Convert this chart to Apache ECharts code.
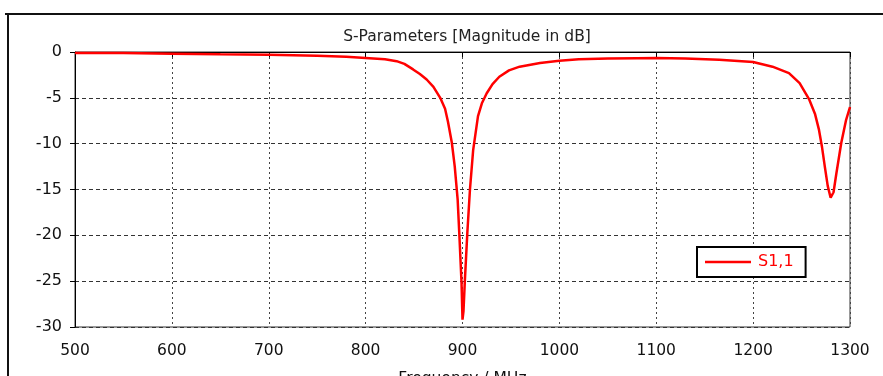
<!DOCTYPE html>
<html>
<head>
<meta charset="utf-8">
<script src="https://cdn.jsdelivr.net/npm/echarts@6/dist/echarts.min.js"></script>
<style>
  html, body { margin: 0; padding: 0; background: #fff; }
  #chart { width: 883px; height: 376px; }
</style>
</head>
<body>
<div id="chart"></div>
<script>
// 频率 (MHz)
const freqs = [500, 550, 600, 650, 700, 750, 780, 800, 820, 832, 840, 849, 856, 863, 870, 877, 882, 885, 889, 892, 895, 897, 899, 900,
  901, 902.5, 905, 907.7, 911, 916, 920, 925, 931, 938, 948, 959, 980, 1000, 1020, 1050, 1080, 1100, 1130, 1165, 1200,
  1220, 1237, 1248, 1258, 1264, 1268, 1271, 1274, 1277, 1280, 1283, 1286, 1291, 1296, 1300]
// S1,1 (dB)
const s11 = [-0.1, -0.12, -0.18, -0.25, -0.3, -0.42, -0.52, -0.65, -0.8, -1.0, -1.3, -1.9, -2.4, -3.0, -3.8, -5.0, -6.2, -7.6, -9.9, -12.5, -16.1, -20.5, -25.2, -29.2,
  -28.3, -24.8, -19.7, -15.0, -10.7, -7.0, -5.6, -4.5, -3.5, -2.7, -2.0, -1.6, -1.2, -0.95, -0.78, -0.72, -0.68, -0.65, -0.7, -0.85, -1.1,
  -1.6, -2.3, -3.4, -5.2, -6.8, -8.5, -10.3, -12.5, -14.6, -15.9, -15.3, -13.2, -9.9, -7.4, -6.0]

const xTicks = [500, 600, 700, 800, 900, 1000, 1100, 1200, 1300]
const yTicks = [0, -5, -10, -15, -20, -25, -30]

const font = 'Tahoma, "DejaVu Sans", sans-serif'

const chart = echarts.init(document.getElementById('chart'))

const option = {
  animation: false,
  title: {
    text: 'S-Parameters [Magnitude in dB]',
    left: 462,
    top: 24,
    textAlign: 'center',
    textStyle: { fontFamily: font, fontSize: 15.5, fontWeight: 'normal', color: '#222' }
  },
  legend: {
    left: 697,
    top: 247,
    orient: 'vertical',
    backgroundColor: '#fff',
    borderColor: '#000',
    borderWidth: 2,
    padding: [7, 12, 7, 8],
    itemWidth: 46,
    itemHeight: 10,
    itemGap: 5,
    icon: 'path://M0,4 L46,4 L46,6.5 L0,6.5 Z',
    textStyle: { fontFamily: font, fontSize: 16, color: '#ff0000', padding: [0, 0, 0, 2] },
    data: ['S1,1']
  },
  grid: {
    left: 75,
    right: 33,
    top: 52,
    bottom: 49,
    containLabel: false,
    outerBoundsMode: 'none',
    show: true,
    borderColor: '#333',
    borderWidth: 1
  },
  xAxis: {
    type: 'value',
    min: 500,
    max: 1300,
    interval: 100,
    name: 'Frequency / MHz',
    nameLocation: 'middle',
    nameGap: 44,
    nameTextStyle: { fontFamily: font, fontSize: 15.5, color: '#111' },
    axisLine: { lineStyle: { color: '#000' } },
    axisTick: { show: true, length: 5, lineStyle: { color: '#000' } },
    axisLabel: { fontFamily: font, fontSize: 15.5, color: '#111', margin: 16,
      formatter: (v) => xTicks.includes(v) ? String(v) : '' },
    splitLine: { show: true, lineStyle: { color: '#444', type: [2, 3] } }
  },
  yAxis: {
    type: 'value',
    min: -30,
    max: 0,
    interval: 5,
    axisLine: { show: true, lineStyle: { color: '#000' } },
    axisTick: { show: true, length: 5, lineStyle: { color: '#000' } },
    axisLabel: { fontFamily: font, fontSize: 16, color: '#111', margin: 13,
      formatter: (v) => yTicks.includes(v) ? String(v) : '' },
    splitLine: { show: true, lineStyle: { color: '#333', type: [4, 3] } }
  },
  graphic: [
    // 外框
    { type: 'line', shape: { x1: 5, y1: 14, x2: 883, y2: 14 }, style: { stroke: '#111', lineWidth: 2 } },
    { type: 'line', shape: { x1: 8, y1: 14, x2: 8, y2: 376 }, style: { stroke: '#111', lineWidth: 2 } }
  ],
  series: [
    {
      name: 'S1,1',
      type: 'line',
      showSymbol: false,
      smooth: false,
      color: '#ff0000',
      lineStyle: { width: 2.5, color: '#ff0000' },
      data: freqs.map((f, i) => [f, s11[i]])
    }
  ]
}

chart.setOption(option)
</script>
</body>
</html>
